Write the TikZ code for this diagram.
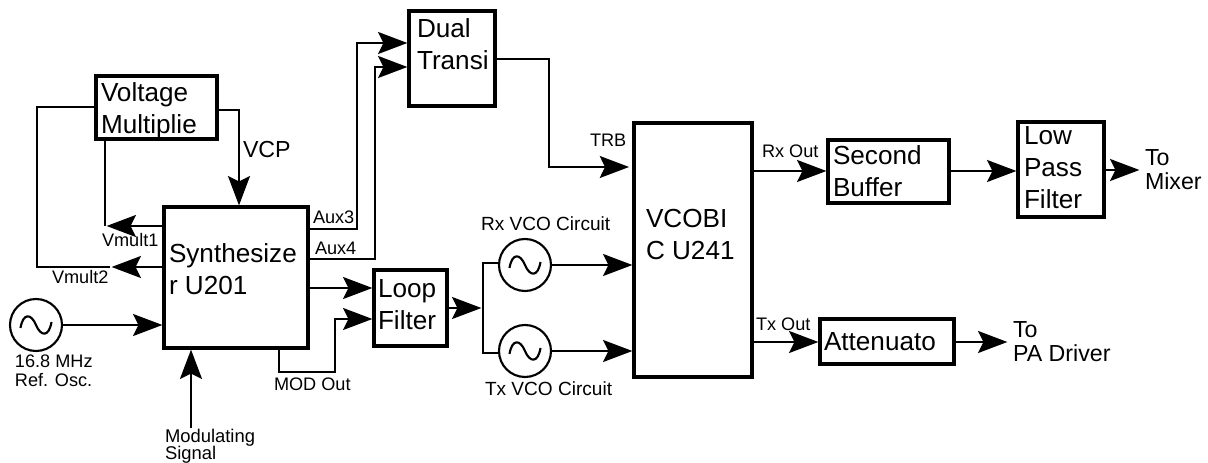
\documentclass[tikz,border=0pt]{standalone}
\usepackage{fontspec}
\setmainfont{Liberation Sans}
\usetikzlibrary{arrows.meta}
\newcommand\lns[1]{\begin{tabular}[t]{@{}l@{}}#1\end{tabular}}
\newcommand\fsz[2]{\fontsize{#1}{#2}\selectfont}
\tikzset{
  blockbox/.style={draw=black,line width=2.3pt,inner sep=0pt,outer sep=0pt,shape=rectangle},
  oscbox/.style={draw=black,line width=1.6pt,circle,inner sep=0pt,outer sep=0pt,minimum size={52*0.75pt}},
  conn/.style={line width=1.4pt,draw=black,line join=miter},
  arr/.style={conn,-{Stealth[length=22pt,width=16.5pt,inset=4pt]},shorten >=1.2pt},
  big/.style={anchor=base west,inner sep=0pt,outer sep=0pt,font=\fsz{19.6}{24}},
  mid/.style={anchor=base west,inner sep=0pt,outer sep=0pt,font=\fsz{17.4}{17.8}},
  small/.style={anchor=base west,inner sep=0pt,outer sep=0pt,font=\fsz{13.6}{14.2}},
}
% name, left, top, right, bottom (pixels)
\newcommand\bx[5]{\node[blockbox,minimum width={(#4-#2)*0.75pt},minimum height={(#5-#3)*0.75pt}] (#1) at ({(#2+#4)/2},{(#3+#5)/2}) {};}
\newcommand\wave[1]{\draw[line width=1.6pt] ([shift={(-15.5,3)}]#1.center) .. controls ([shift={(-13,-12)}]#1.center) and ([shift={(-5,-12)}]#1.center) .. (#1.center) .. controls ([shift={(5,12)}]#1.center) and ([shift={(13,12)}]#1.center) .. ([shift={(15.5,-3)}]#1.center);}
\begin{document}
\begin{tikzpicture}[x=0.75pt,y=-0.75pt]
\path[use as bounding box,fill=white] (0,0) rectangle (1208,463);
% blocks
\bx{vm}{96}{76}{217}{139}
\bx{syn}{164}{207}{308}{348}
\bx{dual}{409}{11}{495}{106}
\bx{loop}{374}{270}{447}{346}
\bx{vco}{634}{123}{752}{377}
\bx{buf}{828}{140}{949}{203}
\bx{lpf}{1018}{122}{1104}{217}
\bx{att}{820}{319}{954}{364}
\node[oscbox] (ref) at (36,325) {};
\node[oscbox] (rxo) at (525,265) {};
\node[oscbox] (txo) at (525,351) {};
\wave{ref}\wave{rxo}\wave{txo}
% block text
\node[big] (tvm) at (101,101.7) {\lns{Voltage\\Multiplie}};
\node[big] (tsyn) at (169,262.7) {\lns{Synthesize\\r U201}};
\node[big] (tdual) at (417,37.7) {\lns{Dual\\Transi}};
\node[big] (tloop) at (378,297.7) {\lns{Loop\\Filter}};
\node[big] (tvco) at (646,228) {\lns{VCOBI\\C U241}};
\node[big] (tbuf) at (833,164.3) {\lns{Second\\Buffer}};
\node[big] (tlpf) at (1024,145) {\lns{Low\\Pass\\Filter}};
\node[big] (tatt) at (824,350.7) {Attenuato};
% labels
\node[mid] (lvcp) at (243,157.7) {VCP};
\node[mid] (lmix) at (1145,165.7) {\lns{To\\Mixer}};
\node[mid] (lpa) at (1013,338) {\lns{To\\PA Driver}};
\node[small] (lv1) at (102,247) {Vmult1};
\node[small] (lv2) at (52,284) {Vmult2};
\node[small] (la3) at (313,224) {Aux3};
\node[small] (la4) at (315,255) {Aux4};
\node[small,font=\fsz{14.3}{14.3}] (lrx) at (481,231) {Rx VCO Circuit};
\node[small,font=\fsz{14.3}{14.3}] (ltx) at (485,395.7) {Tx VCO Circuit};
\node[small] (ltrb) at (590,146.7) {TRB};
\node[small] (lmod) at (274,390.7) {MOD Out};
\node[small] (lref) at (15,368) {\lns{16.8 MHz\\Ref. Osc.}};
\node[small,font=\fsz{13.8}{12.8}] (lms) at (165,443) {\lns{Modulating\\[-1.3pt]Signal}};
\node[small] (lrxo) at (762,158) {Rx Out};
\node[small] (ltxo) at (756,331) {Tx Out};
% free points
\coordinate (msig) at (191,428);
\coordinate (mixtip) at (1141,170);
\coordinate (patip) at (1009,342);
\coordinate (split) at (483,308);
% connectors
\draw[arr] (syn.west |- 0,226) -- (105,226);
\draw[conn] (105,226) -- (vm.south -| 105,0);
\draw[arr] (syn.west |- 0,267) -- (110,267);
\draw[conn] (110,267) -- (37,267) -- (37,107) -- (vm.west |- 0,107);
\draw[arr] (vm.east |- 0,110) -- (239,110) -- (syn.north -| 239,0);
\draw[arr] (syn.east |- 0,229) -- (357,229) -- (357,43) -- (dual.west |- 0,43);
\draw[arr] (syn.east |- 0,259) -- (375,259) -- (375,67) -- (dual.west |- 0,67);
\draw[arr] (dual.east |- 0,59) -- (549,59) -- (549,167) -- ([xshift=-2.5pt]vco.west |- 0,167);
\draw[arr] (syn.east |- 0,288) -- (loop.west |- 0,288);
\draw[arr] (syn.south -| 279,0) -- (279,372) -- (335,372) -- (335,319) -- (loop.west |- 0,319);
\draw[arr] (ref.east) -- (syn.west |- ref.east);
\draw[arr] (msig) -- (syn.south -| msig);
\draw[arr] (loop.east |- split) -- (split);
\draw[conn] (rxo.west |- 0,263) -- (483,263) -- (483,353) -- (txo.west |- 0,353);
\draw[arr] (rxo.east) -- (vco.west |- rxo.east);
\draw[arr] (txo.east) -- (vco.west |- txo.east);
\draw[arr] (vco.east |- 0,171) -- (buf.west |- 0,171);
\draw[arr] (buf.east |- 0,171) -- (lpf.west |- 0,171);
\draw[arr] (lpf.east |- mixtip) -- (mixtip);
\draw[arr] (vco.east |- 0,342) -- (att.west |- 0,342);
\draw[arr] (att.east |- patip) -- (patip);
\end{tikzpicture}
\end{document}
